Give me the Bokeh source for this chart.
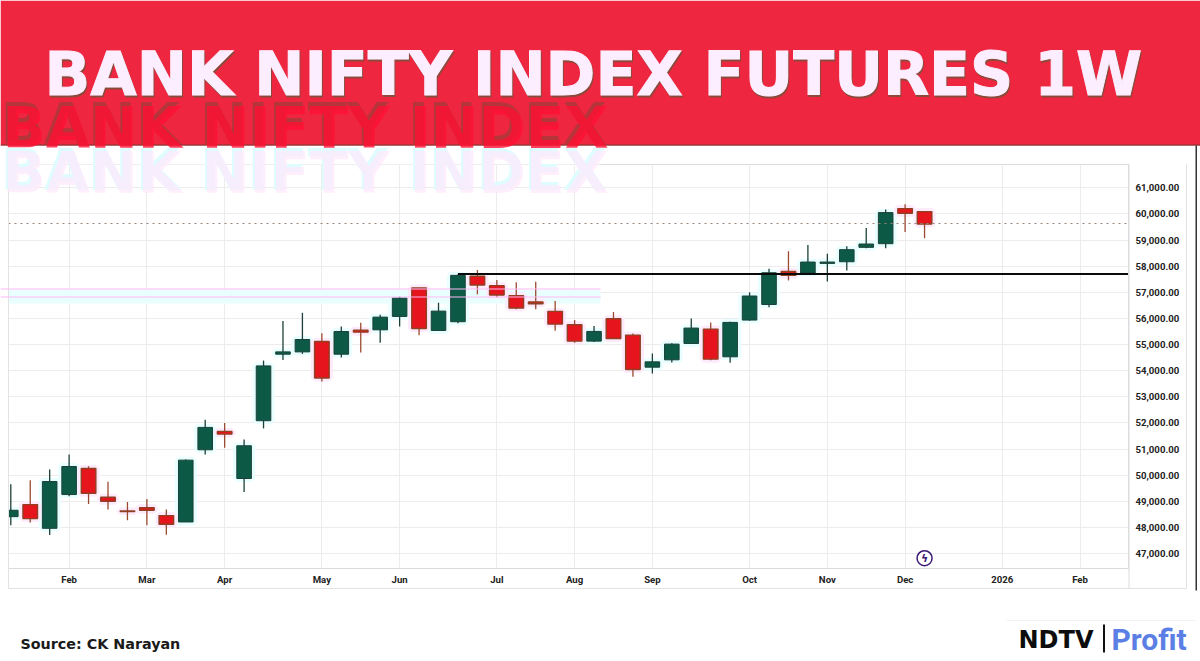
import numpy as np
from bokeh.plotting import figure
from bokeh.models import BoxAnnotation, FixedTicker, NumeralTickFormatter, Range1d, ColumnDataSource
from bokeh.embed import file_html
from bokeh.resources import INLINE

# --- data ---
opens = [48415,48877,47969,49261,50258,49158,48634,48762,48455,48212,50974,51678,49875,52087,54632,54721,55118,54632,55552,55565,56077,57164,55540,55875,
         57614,57256,56872,56629,56271,55760,55133,55990,55363,54135,54417,55043,55593,54532,55939,56534,57800,57737,58107,58171,58721,58862,60205,60090]
highs = [49657,49811,50220,50795,50348,49747,48979,49094,48685,50603,52125,51997,51371,54389,55898,56217,55437,55693,55834,56141,56831,57176,56601,57680,
         57857,57473,57384,57409,56668,55939,55708,56246,55427,54660,55056,56003,55849,55875,57000,57903,58568,58811,58478,58760,59463,60166,60371,60090]
lows = [48083,48187,47713,49197,48903,48685,48276,48084,47726,48212,50795,51051,49363,51793,54414,54644,53583,54504,54696,55066,55693,55361,55540,55821,
        56923,56808,56348,56348,55529,55069,55095,55235,53765,53893,54315,55018,54404,54302,55913,56432,57455,57711,57417,57839,58683,58683,59309,59066]
closes = [48660,48340,49759,50335,49312,49005,48609,48660,48123,50578,51831,51575,51128,54184,54721,55194,53724,55501,55476,56051,56780,55616,56281,57650,
          57281,56898,56399,56565,55785,55133,55504,55235,54046,54340,55018,55632,54442,55849,56859,57749,57647,58159,58159,58632,58849,60051,60026,59616]
y_ticks = list(range(47000, 62000, 1000))
month_weeks = [3, 7, 11, 16, 20, 25, 29, 33, 38, 42, 46, 51, 55]
month_labels = ["Feb", "Mar", "Apr", "May", "Jun", "Jul", "Aug", "Sep", "Oct", "Nov", "Dec", "2026", "Feb"]
last_price = 59634
resistance_level = 57705
resistance_start_week = 23
event_week = 47
event_level = 46825

title_text = "BANK NIFTY INDEX FUTURES 1W"
source_text = "Source: CK Narayan"

# --- style ---
RED = "#ef2640"
UP = "#0c5a45"
UP_EDGE = "#1c4039"
DOWN = "#e6141c"
DOWN_EDGE = "#8f3f22"
GRID = "#ececec"
WIDTH, HEIGHT = 1200, 661
L, R, T, B = 8, 1128, 164, 568
PAGE = {"position": "absolute", "left": "0", "top": "0"}

x_range = Range1d(-0.118, 57.49)
y_range = Range1d(46431, 61892)

p = figure(width=WIDTH, height=HEIGHT, output_backend="svg", toolbar_location=None,
           x_range=x_range, y_range=y_range, y_axis_location="right",
           min_border_left=L, min_border_right=WIDTH - R, min_border_top=T, min_border_bottom=HEIGHT - B,
           background_fill_color="white", border_fill_color="white", outline_line_color="#dcdcdc",
           styles=PAGE)

weeks = np.arange(len(opens))
o, h, l, c = map(np.array, (opens, highs, lows, closes))
up = c >= o
src_up = ColumnDataSource(dict(x=weeks[up], top=c[up], bottom=o[up], hi=h[up], lo=l[up]))
src_dn = ColumnDataSource(dict(x=weeks[~up], top=o[~up], bottom=c[~up], hi=h[~up], lo=l[~up]))

# compression halos
p.vbar("x", 0.77, "top", "bottom", source=src_up, fill_color="#e9ffff", line_color="#e9ffff", line_width=7)
p.vbar("x", 0.77, "top", "bottom", source=src_dn, fill_color="#fdeafb", line_color="#fdeafb", line_width=7)
p.segment("x", "hi", "x", "lo", source=src_up, line_color=UP_EDGE, line_width=1.3)
p.segment("x", "hi", "x", "lo", source=src_dn, line_color="#9a4a30", line_width=1.3)
p.vbar("x", 0.75, "top", "bottom", source=src_up, fill_color=UP, line_color=UP_EDGE, line_width=1)
p.vbar("x", 0.75, "top", "bottom", source=src_dn, fill_color=DOWN, line_color=DOWN_EDGE, line_width=1.4)

p.segment([x_range.start], [last_price], [x_range.end], [last_price], line_color="#9a8478", line_width=1, line_dash="dotted")
p.segment([resistance_start_week], [resistance_level], [x_range.end], [resistance_level], line_color="#0a0a0a", line_width=2)

p.scatter([event_week], [event_level], marker="circle", size=15, fill_color="white", line_color="#3b1a78", line_width=1.5)
p.text([event_week], [event_level], text=["ϟ"], text_color="#3b1a78", text_font={"value": "DejaVu Sans"},
       text_font_style="bold", text_font_size="11px", text_align="center", text_baseline="middle")

# axes and grid
p.xaxis.ticker = FixedTicker(ticks=month_weeks)
p.xaxis.major_label_overrides = dict(zip(month_weeks, month_labels))
p.yaxis.ticker = FixedTicker(ticks=y_ticks)
p.yaxis.formatter = NumeralTickFormatter(format="0,0.00")
for ax in (p.xaxis[0], p.yaxis[0]):
    ax.major_tick_line_color = None
    ax.major_tick_out = 0
    ax.minor_tick_line_color = None
    ax.axis_line_color = "#dcdcdc"
    ax.major_label_text_font = "Roboto"
    ax.major_label_text_font_style = "bold"
    ax.major_label_text_font_size = "9.6px"
    ax.major_label_text_color = "#222222"
p.xaxis.major_label_standoff = 5
p.yaxis.major_label_standoff = 7
p.xgrid.ticker = FixedTicker(ticks=month_weeks)
p.ygrid.ticker = FixedTicker(ticks=y_ticks)
p.xgrid.grid_line_color = GRID
p.ygrid.grid_line_color = GRID

# pale band behind the candles (frame-relative screen units)
p.add_layout(BoxAnnotation(left=0, right=592, bottom=B - 303, top=B - 289,
                           left_units="screen", right_units="screen", top_units="screen", bottom_units="screen",
                           fill_color="#e9ffff", fill_alpha=1, line_alpha=0, level="underlay"))

# transparent page-sized layer for banner, footer and outer frame, in page pixels
deco = figure(width=WIDTH, height=HEIGHT, output_backend="svg", toolbar_location=None,
              x_range=Range1d(0, WIDTH), y_range=Range1d(HEIGHT, 0), x_axis_type=None, y_axis_type=None,
              min_border=0, min_border_left=0, min_border_right=0, min_border_top=0, min_border_bottom=0,
              background_fill_color=None, border_fill_color=None, outline_line_color=None,
              styles=PAGE)

def box(left, right, top, bottom, fill):
    deco.quad(left=[left], right=[right], top=[top], bottom=[bottom], fill_color=fill, line_color=None)

def label(text, x, y, size, color, font="DejaVu Sans", style="bold", align="left", alpha=1.0, outline=None):
    deco.text([x], [y], text=[text], text_font={"value": font}, text_font_style=style, text_font_size=f"{size}px",
              text_color=color, text_align=align, text_baseline="middle", text_alpha=alpha, outline_color=outline)

# outer frame
box(8, 1186, 587.5, 588.5, "#e2e2e2")
box(1185.5, 1186.5, 164, 588, "#e2e2e2")
box(7.5, 8.5, 164, 588, "#e2e2e2")
box(1128, 1129, 164, 588, "#dcdcdc")
# banner and its ghosts
box(0, WIDTH, 0, 145, RED)
box(0, WIDTH, 144, 145, "#7a3b30")
box(1195, 1196.5, 145, 590, "#333333")
box(1006, 1195, 619.5, 620.5, "#f3f3f3")
box(0, 600, 288, 289, "#ffb8f6")
box(0, 600, 296, 297, "#ffb8f6")
box(0, 600, 145.5, 164, "#ffffff")
label("BANK NIFTY INDEX", 0, 123, 57, "#a83a3a", alpha=0.8)
label("BANK NIFTY INDEX", 2, 127, 57, "#ff1033", alpha=0.8)
label("BANK NIFTY INDEX", 0, 169, 57, "#dffcff")
label("BANK NIFTY INDEX", 2, 172, 57, "#ffe8fb", alpha=0.7)

label(title_text, 45, 75.5, 60, "#8a4a3c", outline="#8a4a3c")
label(title_text, 44, 73, 60, "#fdeeff", outline="#fdeeff")
label(source_text, 20, 643, 14.3, "#1a1a1a")
label("NDTV", 1018, 639, 24, "#0d0d0d")
box(1102.5, 1104.5, 624, 652, "#111111")
label("Profit", 1111, 639, 30, "#5b7fe4", font="Roboto")

open("out.html", "w").write(file_html([p, deco], INLINE))
